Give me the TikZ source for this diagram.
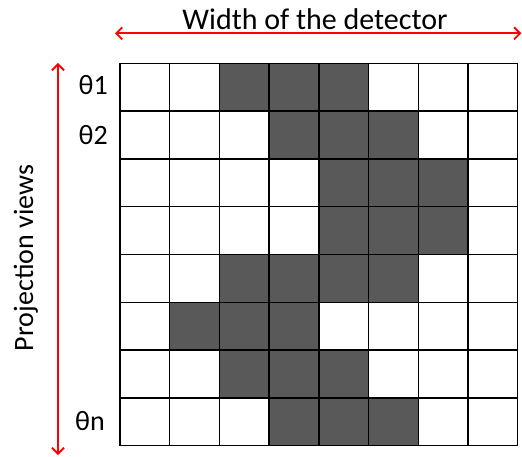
\documentclass[tikz,border=0pt]{standalone}
\usepackage{fontspec}
\setmainfont{Carlito}
\usetikzlibrary{arrows.meta}
\definecolor{cellgray}{HTML}{595959}
\begin{document}
\begin{tikzpicture}[x=1pt,y=-1pt,
  darkcell/.style={fill=cellgray},
  gridline/.style={draw=black,line width=1.4pt,line cap=rect},
  redarrow/.style={draw=red,line width=1.8pt,{Straight Barb[length=6pt,width=12pt]}-{Straight Barb[length=6pt,width=12pt]}},
  lbl/.style={font=\fontsize{28}{32}\selectfont,inner sep=0pt}]
\useasboundingbox (0,0) rectangle (522,457);
\fill[white] (0,0) rectangle (522,457);
\def\cw{49.7}
\def\ch{47.8}
\foreach \r/\cl in {0/{2,3,4},1/{3,4,5},2/{4,5,6},3/{4,5,6},4/{2,3,4,5},5/{1,2,3},6/{2,3,4},7/{3,4,5}} {
  \foreach \c in \cl {
    \fill[darkcell] ({120+\c*\cw},{63.3+\r*\ch}) rectangle ++(\cw,\ch);
  }
}
\foreach \i in {0,...,8} {
  \draw[gridline] ({120+\i*\cw},63.3) -- ({120+\i*\cw},{63.3+8*\ch});
  \draw[gridline] (120,{63.3+\i*\ch}) -- ({120+8*\cw},{63.3+\i*\ch});
}
\coordinate (wl) at (115,33.3);
\coordinate (wr) at (521.3,33.3);
\draw[redarrow] (wl) -- (wr);
\coordinate (pt) at (58,63);
\coordinate (pb) at (58,455);
\draw[redarrow] (pt) -- (pb);
\node[lbl,anchor=base,font=\fontsize{30}{34}\selectfont] (title) at (315,29.3) {Width of the detector};
\node[lbl,anchor=base,rotate=90] (proj) at (33,258) {Projection views};
\node[lbl,anchor=base east] (t1) at (108,95) {θ1};
\node[lbl,anchor=base east] (t2) at (108,145) {θ2};
\node[lbl,anchor=base east] (tn) at (105,430) {θn};
\end{tikzpicture}
\end{document}
